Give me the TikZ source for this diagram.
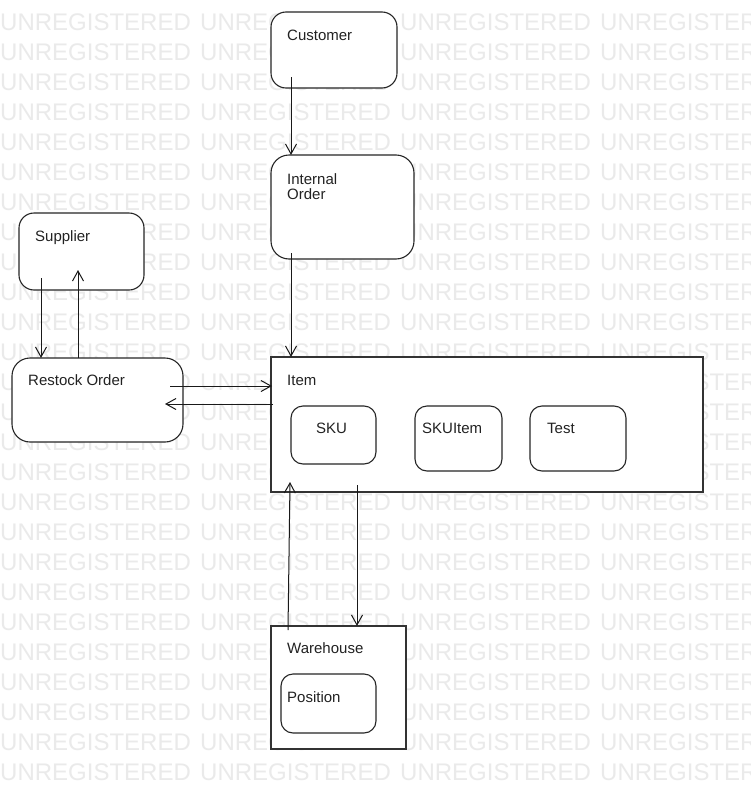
\documentclass[tikz,border=0pt]{standalone}
\usepackage{fontspec}
\setmainfont{Liberation Sans}
\usetikzlibrary{arrows.meta,calc}
\definecolor{wm}{RGB}{234,234,234}
\definecolor{txt}{RGB}{34,34,34}
\begin{document}
\begin{tikzpicture}[x=1pt,y=-1pt,
  rbox/.style={draw=black!85, line width=1.1pt, fill=white, rounded corners=15pt, inner sep=0pt, outer sep=0pt, anchor=north west},
  sbox/.style={draw=black!80, line width=1.3pt, fill=white, inner sep=0pt, outer sep=0pt, anchor=north west},
  lbl/.style={anchor=base west, inner sep=0pt, text=txt, align=left, font=\fontsize{15}{15}\selectfont},
  arr/.style={draw=black!90, line width=1pt, -{Straight Barb[length=10pt,width=11pt]}},
  wmtext/.style={anchor=base west, inner sep=0pt, text=wm, font=\fontsize{24}{24}\selectfont}]
\useasboundingbox[fill=white] (0,0) rectangle (751,798);
\foreach \r in {0,...,25} {
  \foreach \c in {0,1,2,3} {
    \node[wmtext] (wm-\r-\c) at (\c*200, 30+\r*30) {UNREGISTERED};
  }
}
% boxes
\node[rbox, minimum width=126pt, minimum height=76pt] (cust) at (271,12) {};
\node[rbox, rounded corners=18pt, minimum width=143pt, minimum height=104pt] (int) at (271,155) {};
\node[rbox, minimum width=125pt, minimum height=77pt] (sup) at (19,213) {};
\node[rbox, rounded corners=18pt, minimum width=171pt, minimum height=84pt] (rest) at (12,358) {};
\node[sbox, minimum width=432pt, minimum height=135pt] (item) at (271,357) {};
\node[rbox, rounded corners=12pt, minimum width=85pt, minimum height=58pt] (sku) at (291,406) {};
\node[rbox, rounded corners=12pt, minimum width=87pt, minimum height=65pt] (skuitem) at (415,406) {};
\node[rbox, rounded corners=12pt, minimum width=96pt, minimum height=65pt] (test) at (530,406) {};
\node[sbox, minimum width=135pt, minimum height=123pt] (wh) at (271,626) {};
\node[rbox, rounded corners=12pt, minimum width=95pt, minimum height=59pt] (pos) at (281,674) {};
% labels
\node[lbl] (custL) at (287,40) {Customer};
\node[lbl] (intL) at (287,199) {Internal\\Order};
\node[lbl] (supL) at (35,241) {Supplier};
\node[lbl] (restL) at (28,385) {Restock Order};
\node[lbl] (itemL) at (287,385) {Item};
\node[lbl] (skuL) at (316,433) {SKU};
\node[lbl] (skuitemL) at (422,433) {SKUItem};
\node[lbl] (testL) at (547,433) {Test};
\node[lbl] (whL) at (287,653) {Warehouse};
\node[lbl] (posL) at (287,702) {Position};
% connectors
\draw[arr] ($(cust.south west)+(20,-11)$) -- ($(int.north west)+(20,0)$);
\draw[arr] ($(int.south west)+(20,-6)$) -- ($(item.north west)+(20,0)$);
\draw[arr] ($(sup.south west)+(22,-12)$) -- ($(rest.north west)+(29,0)$);
\draw[arr] ($(rest.north west)+(66,0)$) -- ($(sup.south west)+(59,-20)$);
\draw[arr] ($(rest.north east)+(-13,28)$) -- ($(item.north west)+(1,29)$);
\draw[arr] ($(item.north west)+(2,47)$) -- ($(rest.north east)+(-18,46)$);
\draw[arr] ($(wh.north west)+(17,4)$) -- ($(item.south west)+(19,-10)$);
\draw[arr] ($(item.south west)+(86,-7)$) -- ($(wh.north west)+(86,0)$);
\end{tikzpicture}
\end{document}
